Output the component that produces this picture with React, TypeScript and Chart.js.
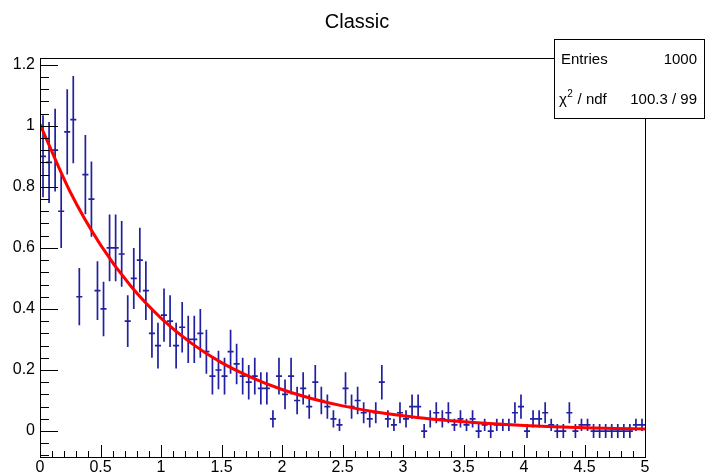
import { useEffect, useRef } from 'react';
import { Chart, registerables } from 'chart.js';

Chart.register(...registerables);

// ---- data ----
const TITLE = 'Classic';
const ENTRIES = 1000;
const CHI2_TEXT = '100.3 / 99';

const X_MIN = 0;
const X_MAX = 5;
const BIN_WIDTH = 0.05;
const NORM = 50; // entries * bin width (density normalisation)

// bin contents (counts) of the 100 bins between 0 and 5
const COUNTS = [
  45, 44, 46, 36, 49, 51, 22, 42, 38, 23,
  20, 30, 30, 29, 18, 25, 28, 23, 16, 14,
  19, 18, 14, 17, 15, 15, 16, 13, 9, 10,
  9, 13, 11, 9, 8, 9, 7, 7, 2, 9,
  6, 9, 5, 7, 4, 8, 5, 4, 2, 1,
  7, 4, 5, 3, 2, 3, 8, 2, 1, 3,
  2, 4, 4, 0, 2, 3, 2, 3, 1, 2,
  1, 2, 0, 1, 0, 1, 1, 1, 3, 4,
  0, 2, 2, 3, 1, 0, 0, 3, 0, 1,
  1, 0, 0, 0, 0, 0, 0, 0, 1, 1,
];
const ZERO_BIN_ERROR = 0.023;

// fitted curve
const FIT_X = [0, 0.25, 0.5, 0.75, 1, 1.25, 1.5, 1.75, 2, 2.25, 2.5, 2.75, 3, 3.25, 3.5, 3.75, 4, 4.25, 4.5, 4.75, 5];
const FIT_Y = [1.005, 0.783, 0.61, 0.475, 0.37, 0.288, 0.224, 0.175, 0.136, 0.106, 0.0825, 0.0643, 0.05, 0.039, 0.0303, 0.0236, 0.0184, 0.0143, 0.0112, 0.0087, 0.0068];

const X_TICKS = [0, 0.5, 1, 1.5, 2, 2.5, 3, 3.5, 4, 4.5, 5];
const Y_TICKS = [0, 0.2, 0.4, 0.6, 0.8, 1, 1.2];
const Y_MIN = -0.085;
const Y_MAX = 1.222;

// ---- derived ----
const HIST_VALUES = COUNTS.map((n) => n / NORM);
const HIST_ERRORS = COUNTS.map((n) => (n > 0 ? Math.sqrt(n) / NORM : ZERO_BIN_ERROR));
const HIST_POINTS = COUNTS.map((_, i) => ({ x: X_MIN + BIN_WIDTH * (i + 0.5), y: HIST_VALUES[i] }));
const FIT_POINTS = FIT_X.map((x, i) => ({ x, y: FIT_Y[i] }));

const W = 705;
const H = 473;
const FONT = '"Liberation Sans", Arial, Helvetica, sans-serif';

const fmt = (v: number) => String(Math.round(v * 10) / 10);

const rootPlugin = {
  id: 'rootStyle',
  beforeDatasetsDraw(chart: any) {
    const { ctx, scales } = chart;
    const xs = scales.x;
    const ys = scales.y;
    ctx.save();
    ctx.strokeStyle = '#2020a0';
    ctx.lineWidth = 1.7;
    ctx.beginPath();
    HIST_POINTS.forEach((p, i) => {
      const e = HIST_ERRORS[i];
      const px = xs.getPixelForValue(p.x);
      const pl = xs.getPixelForValue(p.x - BIN_WIDTH / 2);
      const pr = xs.getPixelForValue(p.x + BIN_WIDTH / 2);
      const py = ys.getPixelForValue(p.y);
      ctx.moveTo(pl, py);
      ctx.lineTo(pr, py);
      ctx.moveTo(px, ys.getPixelForValue(p.y - e));
      ctx.lineTo(px, ys.getPixelForValue(p.y + e));
    });
    ctx.stroke();
    ctx.restore();
  },
  afterDraw(chart: any) {
    const { ctx, chartArea: a, scales } = chart;
    const xs = scales.x;
    const ys = scales.y;
    ctx.save();
    // ticks (inside the frame, ROOT style)
    ctx.strokeStyle = '#000';
    ctx.lineWidth = 1;
    ctx.beginPath();
    const yMinorStep = 0.04;
    for (let k = Math.ceil(Y_MIN / yMinorStep - 1e-9); k * yMinorStep <= Y_MAX + 1e-9; k++) {
      const v = k * yMinorStep;
      const py = Math.round(ys.getPixelForValue(v)) + 0.5;
      const len = k % 5 === 0 ? 18 : 9;
      ctx.moveTo(a.left, py);
      ctx.lineTo(a.left + len, py);
    }
    const xMinorStep = 0.1;
    for (let k = 0; k * xMinorStep <= X_MAX + 1e-9; k++) {
      const v = k * xMinorStep;
      const px = Math.round(xs.getPixelForValue(v)) + 0.5;
      const len = k % 5 === 0 ? 12 : 6;
      ctx.moveTo(px, a.bottom);
      ctx.lineTo(px, a.bottom - len);
    }
    ctx.stroke();
    // frame
    ctx.strokeRect(Math.round(a.left) + 0.5, Math.round(a.top) + 0.5, Math.round(a.right - a.left), Math.round(a.bottom - a.top));

    // title
    ctx.fillStyle = '#000';
    ctx.font = `20px ${FONT}`;
    ctx.textAlign = 'center';
    ctx.textBaseline = 'middle';
    ctx.fillText(TITLE, 357, 22);

    // stats box
    const bx = 554.5, by = 39.5, bw = 150, bh = 79;
    ctx.fillStyle = '#fff';
    ctx.fillRect(bx, by, bw, bh);
    ctx.strokeStyle = '#000';
    ctx.strokeRect(bx, by, bw, bh);
    ctx.fillStyle = '#000';
    ctx.font = `15px ${FONT}`;
    ctx.textBaseline = 'middle';
    ctx.textAlign = 'left';
    ctx.fillText('Entries', 561, 60);
    ctx.textAlign = 'right';
    ctx.fillText(String(ENTRIES), 697, 60);
    ctx.fillText(CHI2_TEXT, 697, 100);
    ctx.textAlign = 'left';
    ctx.fillText('\u03c7', 559, 100);
    const chiW = ctx.measureText('\u03c7').width;
    ctx.font = `10px ${FONT}`;
    ctx.fillText('2', 559 + chiW + 0.5, 94);
    const twoW = ctx.measureText('2').width;
    ctx.font = `15px ${FONT}`;
    ctx.fillText(' / ndf', 559 + chiW + twoW + 1, 100);
    ctx.restore();
  },
};

export default function App() {
  const ref = useRef<HTMLCanvasElement>(null);
  useEffect(() => {
    if (!ref.current) return;
    const tickFont = { family: FONT, size: 16 };
    const chart = new Chart(ref.current, {
      type: 'scatter',
      data: {
        datasets: [
          {
            label: 'histogram',
            data: HIST_POINTS,
            pointRadius: 0,
            showLine: false,
          },
          {
            label: 'fit',
            type: 'line',
            data: FIT_POINTS,
            borderColor: '#ff0000',
            borderWidth: 3,
            pointRadius: 0,
            fill: false,
            cubicInterpolationMode: 'monotone',
          } as any,
        ],
      },
      options: {
        responsive: false,
        animation: false,
        events: [],
        layout: { padding: { top: 58, right: 60, left: 0, bottom: 0 } },
        plugins: { legend: { display: false }, tooltip: { enabled: false }, title: { display: false } },
        scales: {
          x: {
            type: 'linear',
            min: X_MIN,
            max: X_MAX,
            afterBuildTicks: (s: any) => {
              s.ticks = X_TICKS.map((v) => ({ value: v }));
            },
            afterFit: (s: any) => {
              s.height = 16;
              s.paddingLeft = 0;
              s.paddingRight = 0;
            },
            grid: { display: false, drawTicks: false },
            border: { display: false },
            ticks: {
              font: tickFont,
              color: '#000',
              padding: 1,
              maxRotation: 0,
              autoSkip: false,
              callback: (v: any) => fmt(Number(v)),
            },
          },
          y: {
            type: 'linear',
            min: Y_MIN,
            max: Y_MAX,
            afterBuildTicks: (s: any) => {
              s.ticks = Y_TICKS.map((v) => ({ value: v }));
            },
            afterFit: (s: any) => {
              s.width = 40;
              s.paddingTop = 0;
              s.paddingBottom = 0;
            },
            grid: { display: false, drawTicks: false },
            border: { display: false },
            ticks: {
              font: tickFont,
              color: '#000',
              padding: 5,
              autoSkip: false,
              callback: (v: any) => fmt(Number(v)),
            },
          },
        },
      },
      plugins: [rootPlugin],
    });
    return () => chart.destroy();
  }, []);
  return (
    <div style={{ position: 'absolute', left: 0, top: 0, width: W, height: H, background: '#fff' }}>
      <canvas ref={ref} width={W} height={H} style={{ display: 'block', width: W, height: H }} />
    </div>
  );
}
